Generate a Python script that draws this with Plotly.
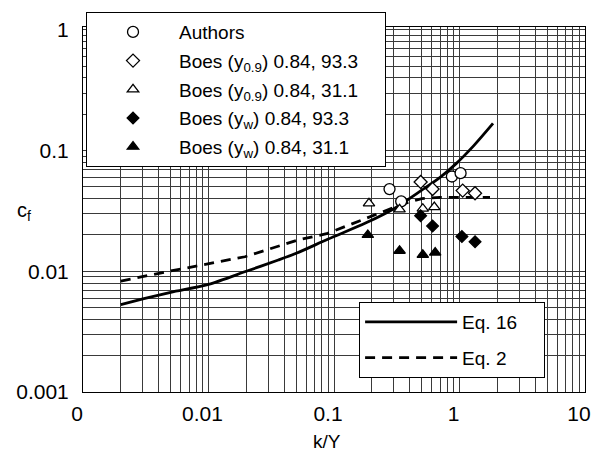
import plotly.graph_objects as go

# Measured friction coefficients
authors_x = [0.277, 0.343, 0.87, 1.02]
authors_y = [0.048, 0.038, 0.061, 0.065]

boes_y09_933_x = [0.49, 0.61, 1.06, 1.33]
boes_y09_933_y = [0.055, 0.048, 0.0466, 0.0443]

boes_y09_311_x = [0.19, 0.333, 0.51, 0.63]
boes_y09_311_y = [0.0366, 0.0326, 0.033, 0.034]

boes_yw_933_x = [0.49, 0.61, 1.045, 1.33]
boes_yw_933_y = [0.0289, 0.0237, 0.0194, 0.0176]

boes_yw_311_x = [0.186, 0.333, 0.51, 0.64]
boes_yw_311_y = [0.0200, 0.0148, 0.0137, 0.0143]

# Predicted curves
eq16_x = [0.002, 0.003, 0.005, 0.01, 0.02, 0.036, 0.05, 0.09, 0.18, 0.3, 0.5, 0.7, 0.94, 1.3, 1.85]
eq16_y = [0.0053, 0.0059, 0.0067, 0.0078, 0.0100, 0.0124, 0.0141, 0.0185, 0.0252, 0.0330,
          0.047, 0.060, 0.078, 0.110, 0.168]

eq2_x = [0.002, 0.0046, 0.0195, 0.036, 0.052, 0.089, 0.15, 0.25, 0.35, 0.5, 0.7, 1.0, 1.75]
eq2_y = [0.0083, 0.0099, 0.0132, 0.0162, 0.0182, 0.0206, 0.0255, 0.031, 0.036, 0.040, 0.041,
         0.041, 0.041]

x_tickvals = [0.001, 0.01, 0.1, 1, 10]
x_ticktext = ["0", "0.01", "0.1", "1", "10"]
y_tickvals = [0.001, 0.01, 0.1, 1]
y_ticktext = ["0.001", "0.01", "0.1", "1"]

FONT = "Liberation Sans, Arial, Helvetica, sans-serif"
GRID = "#3a3a3a"
PAD = "\u00a0" * 4

fig = go.Figure()

fig.add_trace(go.Scatter(x=eq16_x, y=eq16_y, mode="lines", name="Eq. 16" + PAD,
                         line=dict(color="black", width=2.8, shape="spline", smoothing=0.8),
                         legend="legend2", legendgroup="l1"))
fig.add_trace(go.Scatter(x=eq2_x, y=eq2_y, mode="lines", name="Eq. 2",
                         line=dict(color="black", width=2.8, dash="10px,7px"),
                         legend="legend2", legendgroup="l2"))

open_line = dict(color="black", width=1.3)
series = [
    (authors_x, authors_y, "Authors", "circle", 11, "white"),
    (boes_y09_933_x, boes_y09_933_y, "Boes (y<sub>0.9</sub>) 0.84, 93.3" + PAD, "diamond", 10, "white"),
    (boes_y09_311_x, boes_y09_311_y, "Boes (y<sub>0.9</sub>) 0.84, 31.1", "triangle-up", 10, "white"),
    (boes_yw_933_x, boes_yw_933_y, "Boes (y<sub>w</sub>) 0.84, 93.3", "diamond", 9, "black"),
    (boes_yw_311_x, boes_yw_311_y, "Boes (y<sub>w</sub>) 0.84, 31.1", "triangle-up", 10, "black"),
]
for i, (xs, ys, name, sym, size, fill) in enumerate(series):
    fig.add_trace(go.Scatter(
        x=xs, y=ys, mode="markers", name=name, legendgroup=f"g{i}",
        marker=dict(symbol=sym, size=size, color=fill, line=open_line),
        legend="legend"))

minor_vals = [m * 10 ** e for e in range(-3, 1) for m in range(2, 10)]

axis_common = dict(
    type="log", showline=True, linecolor="black", linewidth=1, mirror=True,
    showgrid=True, gridcolor=GRID, gridwidth=1, ticks="", zeroline=False,
    tickfont=dict(family=FONT, size=21, color="black"),
)

fig.update_xaxes(
    range=[-3, 1], tickmode="array", tickvals=x_tickvals, ticktext=x_ticktext,
    minor=dict(tickmode="array", tickvals=minor_vals, showgrid=True, gridcolor=GRID, gridwidth=1),
    ticklabelshift=-6, ticklabelstandoff=3,
    **axis_common,
)
fig.update_yaxes(
    range=[-3, 0.024], tickmode="array", tickvals=y_tickvals, ticktext=y_ticktext,
    minor=dict(tickmode="array", tickvals=minor_vals, showgrid=True, gridcolor=GRID, gridwidth=1),
    ticklabelstandoff=9,
    **axis_common,
)

fig.add_annotation(text="c<sub>f</sub>", xref="paper", yref="paper", x=-0.135, y=0.495,
                   showarrow=False, font=dict(family=FONT, size=20, color="black"))
fig.add_annotation(text="k/Y", xref="paper", yref="paper", x=0.487, y=-0.135,
                   yanchor="middle", showarrow=False, font=dict(family=FONT, size=19, color="black"))

fig.update_layout(
    width=603, height=452,
    margin=dict(l=83, r=13, t=27, b=60),
    paper_bgcolor="white", plot_bgcolor="white",
    font=dict(family=FONT, color="black"),
    legend=dict(x=0.006, y=1.041, xanchor="left", yanchor="top",
                bgcolor="white", bordercolor="black", borderwidth=1,
                font=dict(family=FONT, size=19, color="black"),
                itemwidth=82, tracegroupgap=1),
    legend2=dict(x=0.55, y=0.2466, xanchor="left", yanchor="top",
                 bgcolor="white", bordercolor="black", borderwidth=1,
                 font=dict(family=FONT, size=19, color="black"),
                 itemwidth=92, tracegroupgap=8),
    showlegend=True,
)

fig.write_html("out.html")
